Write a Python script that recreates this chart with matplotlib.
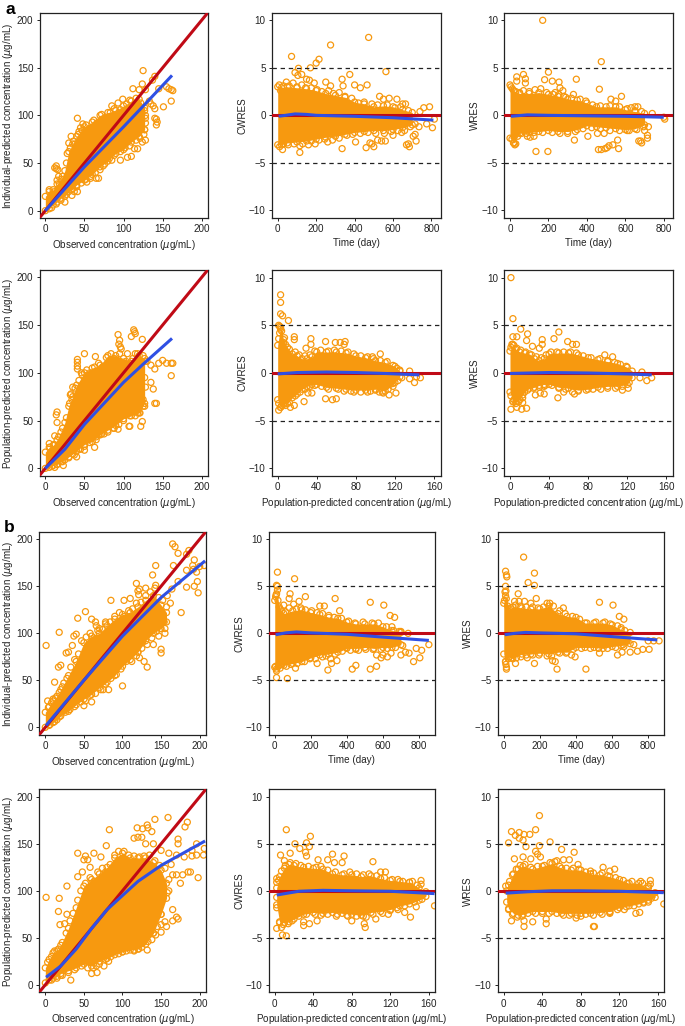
import matplotlib
matplotlib.use("Agg")
import matplotlib.pyplot as plt

WIDTH = 685
HEIGHT = 1026
ORANGE = "#F7990F"
RED = "#C00A16"
BLUE = "#2F50E4"
DARK = "#222222"

plt.rcParams["font.family"] = ["Liberation Sans", "DejaVu Sans"]
plt.rcParams["mathtext.fontset"] = "dejavusans"

OBS_LABEL = r"Observed concentration ($\mu$g/mL)"
IPRED_LABEL = r"Individual-predicted concentration ($\mu$g/mL)"
PRED_LABEL = r"Population-predicted concentration ($\mu$g/mL)"
TIME_LABEL = "Time (day)"

CONC_TICKS = [0, 50, 100, 150, 200]
TIME_TICKS = [0, 200, 400, 600, 800]
PRED_TICKS = [0, 40, 80, 120, 160]
RES_TICKS = [-10, -5, 0, 5, 10]

# dense part of each cloud: x positions with the lower and upper edge
a_conc_x = [0, 5, 10, 15, 20, 25, 30, 35, 40, 50, 60, 70, 80, 90, 100, 110, 120, 127]
a1_hi = [15, 20, 22, 28, 33, 42, 62, 70, 78, 88, 93, 100, 103, 105, 110, 115, 117, 108]
a1_lo = [0, 2, 6, 9, 13, 15, 20, 23, 27, 32, 38, 46, 52, 60, 64, 72, 78, 85]
a4_hi = [17, 22, 24, 30, 38, 48, 65, 75, 87, 100, 105, 108, 118, 118, 115, 112, 118, 115]
a4_lo = [0, 1, 3, 4, 7, 9, 12, 15, 18, 25, 28, 35, 40, 45, 52, 55, 58, 68]

a_time_x = [0, 20, 50, 100, 150, 200, 250, 300, 350, 400, 450, 500, 550, 600, 650, 700]
a2_hi = [3, 2.9, 3, 2.9, 2.8, 2.6, 2.3, 2.1, 1.9, 1.4, 1.2, 0.9, 1.0, 0.9, 0.6, 0.3]
a2_lo = [-3.1, -3.1, -2.9, -2.8, -2.7, -2.5, -2.3, -2.2, -2, -1.8, -1.7, -1.6, -1.6, -1.5, -1.3, -1]
a3_hi = [3.2, 2.6, 2.3, 2.3, 2.4, 2.2, 2, 1.7, 1.6, 1.3, 0.9, 0.9, 0.9, 0.6, 0.4, 0.2]
a3_lo = [-2.4, -2.9, -1.9, -1.8, -1.7, -1.6, -1.7, -1.7, -1.5, -1.1, -1.2, -1.3, -1.4, -1.5, -1.4, -1]

a_pred_x = [0, 3, 6, 10, 15, 20, 25, 30, 35, 40, 50, 60, 70, 80, 90, 100, 110, 120, 125]
a5_hi = [2.9, 4.8, 3.5, 2.7, 2, 1.8, 1.5, 1.5, 1.7, 2.2, 2.2, 2.2, 2.1, 1.8, 1.6, 1.3, 1.1, 0.7, 0.2]
a5_lo = [-2.8, -3.6, -3.3, -3.2, -2.6, -2.2, -1.7, -1.4, -1.2, -1.2, -1.5, -1.6, -1.7, -1.8, -1.8, -1.7, -1.9, -1, -0.4]
a6_hi = [2.3, 3, 2.5, 2.2, 2.1, 2, 1.5, 1.3, 1.5, 2, 2.1, 2.1, 1.9, 1.6, 1.4, 1.2, 1, 0.6, 0.2]
a6_lo = [-2, -3, -3, -2.8, -2, -1.6, -1.5, -1.3, -1.2, -1.2, -1.5, -1.6, -1.8, -1.7, -1.5, -1.4, -1.4, -1.2, -0.5]

b_conc_x = [0, 5, 10, 15, 20, 30, 40, 50, 60, 70, 80, 90, 100, 110, 120, 130, 140, 150, 157]
b1_hi = [16, 22, 28, 33, 40, 55, 70, 90, 97, 100, 108, 115, 120, 122, 128, 135, 140, 130, 122]
b1_lo = [0, 2, 5, 8, 12, 17, 24, 30, 35, 42, 48, 55, 65, 72, 80, 92, 100, 105, 112]
b4_hi = [18, 27, 34, 36, 42, 60, 82, 105, 112, 118, 125, 135, 140, 135, 135, 135, 130, 122, 108]
b4_lo = [2, 5, 7, 9, 12, 15, 18, 22, 20, 25, 28, 32, 35, 37, 38, 43, 55, 75, 92]

b_time_x = [0, 10, 30, 50, 100, 150, 200, 250, 300, 350, 400, 450, 500, 550, 600, 650, 700]
b2_hi = [3.5, 4.2, 2.6, 2.1, 2.4, 2.5, 2.2, 2, 1.7, 1.6, 1.2, 1, 1, 1, 0.7, 0.3, 0.2]
b2_lo = [-3.6, -3.8, -3.3, -3.4, -3.2, -3, -2.6, -2.3, -2.2, -2, -1.6, -1.6, -1.5, -1.6, -1.5, -1.5, -1.2]
b3_hi = [3.2, 4, 2.6, 2.8, 2.7, 2.6, 2.6, 2.9, 2.1, 1.8, 1.7, 1.1, 1.1, 1.1, 0.9, 0.4, 0.1]
b3_lo = [-2.2, -3, -2.5, -2.7, -2.2, -2.2, -2.1, -2.2, -2, -2, -1.5, -1.5, -1.5, -1.6, -1.4, -1.3, -1.1]

b5_x = [2, 5, 10, 15, 20, 30, 40, 50, 60, 70, 80, 90, 100, 110, 120, 130, 140, 150, 157]
b5_hi = [0.3, 1.5, 2.4, 2.8, 2.7, 2.5, 2.4, 2.3, 1.8, 1.7, 1.7, 1.5, 1.6, 1.3, 1.1, 1, 0.9, 0.3, -0.1]
b5_lo = [-1.5, -3.3, -3.4, -3.3, -3, -2.5, -2.3, -2.4, -2.3, -2.4, -2.5, -2.6, -2.3, -2.2, -2, -1.6, -1.4, -1, -0.6]
b6_x = [3, 5, 10, 15, 20, 30, 40, 50, 60, 70, 80, 90, 100, 110, 120, 130, 140, 150, 157]
b6_hi = [0, 0.6, 1.8, 2.3, 2.6, 2.3, 2.6, 2.9, 2.4, 2.2, 2.2, 1.8, 1.7, 1.5, 1.2, 0.8, 0.8, 0.3, -0.2]
b6_lo = [-1.2, -1.9, -2.4, -2.6, -2.5, -2.2, -2.2, -2.2, -2.4, -2.4, -2.4, -2.4, -2.3, -2.2, -1.8, -1.6, -1.4, -1, -0.7]

# circles sitting on the rim of the dense part
a1_rim = [(8, 17), (12, 20), (18, 28), (22, 36), (27, 50), (28, 60), (32, 66), (36, 73), (38, 70), (42, 80), (47, 84), (52, 90),
          (56, 86), (62, 95), (66, 92), (72, 101), (77, 98), (83, 103), (88, 107), (96, 106), (104, 112), (108, 116), (116, 118),
          (122, 113), (127, 105), (128, 100), (128, 92), (127, 85), (126, 80), (121, 76), (116, 74), (108, 68), (102, 66), (96, 62),
          (88, 58), (82, 55), (76, 49), (70, 43), (64, 40), (58, 36), (52, 33), (46, 29), (40, 25), (33, 22), (27, 17), (20, 11),
          (14, 7), (8, 3)]
a2_rim = [(8, 3.2), (15, 2.6), (30, 3.1), (45, 3.5), (60, 3.1), (80, 3.4), (100, 3), (125, 3.2), (145, 2.9), (175, 2.9), (205, 2.7),
          (230, 2.5), (265, 2.6), (290, 2.3), (320, 2.4), (350, 2), (385, 1.8), (420, 1.3), (450, 1.4), (490, 1.2), (520, 1.1),
          (570, 1.1), (610, 0.8), (640, 0.9), (680, 0.5), (10, -3.3), (30, -3), (55, -3.1), (85, -3), (130, -3), (175, -2.7),
          (215, -2.6), (245, -2.5), (285, -2.6), (320, -2.4), (360, -2.1), (390, -2), (430, -1.9), (470, -1.8), (510, -1.9),
          (555, -1.9), (590, -1.7), (625, -1.6), (660, -1.6), (690, -1.2)]
a3_rim = [(5, 3), (12, 2.8), (30, 2.5), (50, 2.4), (70, 2.6), (100, 2.5), (130, 2.7), (160, 2.8), (190, 2.4), (225, 2.2), (255, 2.2),
          (290, 1.9), (320, 1.8), (365, 1.7), (395, 1.5), (430, 1.1), (470, 1), (520, 1), (570, 0.9), (610, 0.7), (650, 0.5),
          (685, 0.4), (10, -2.5), (18, -2.9), (40, -2.2), (60, -1.9), (85, -1.9), (125, -1.8), (170, -1.8), (220, -1.8), (260, -1.9),
          (300, -1.9), (340, -1.7), (380, -1.4), (425, -1.3), (470, -1.4), (520, -1.6), (570, -1.6), (620, -1.6), (660, -1.5), (695, -1.2)]
a4_rim = [(6, 22), (11, 25), (17, 33), (22, 42), (27, 53), (31, 68), (34, 72), (38, 84), (43, 92), (47, 98), (53, 103), (57, 100),
          (63, 106), (68, 110), (73, 106), (78, 116), (84, 120), (88, 115), (95, 120), (103, 112), (108, 110), (112, 115), (118, 120),
          (125, 118), (128, 112), (127, 95), (128, 85), (125, 72), (127, 65), (121, 58), (115, 55), (108, 55), (100, 50), (94, 46),
          (88, 42), (80, 38), (72, 36), (65, 30), (57, 27), (50, 23), (43, 20), (37, 14), (30, 11), (22, 7), (15, 4), (8, 2)]
a5_rim = [(1, 3.6), (2, 4.2), (4, 4.4), (6, 3.2), (8, 3), (12, 2.5), (18, 2.2), (22, 1.9), (28, 1.8), (33, 1.9), (38, 2.3), (44, 2.4),
          (52, 2.3), (58, 2.4), (65, 2.3), (72, 2.2), (78, 2), (85, 1.8), (92, 1.7), (98, 1.5), (105, 1.3), (112, 1.2), (118, 0.8),
          (122, 0.5), (1, -3.2), (4, -3.4), (8, -3.4), (12, -3.1), (18, -2.4), (23, -2), (28, -1.7), (33, -1.4), (38, -1.3), (45, -1.4),
          (52, -1.7), (62, -1.7), (68, -1.9), (75, -1.9), (85, -2), (92, -2), (100, -1.8), (107, -2), (113, -1.7), (118, -1.4), (123, -0.8)]
a6_rim = [(1, 2.7), (2, 3), (4, 2.9), (7, 2.6), (11, 2.4), (16, 2.2), (22, 1.9), (27, 1.7), (32, 1.6), (37, 1.9), (42, 2.2), (48, 2.2),
          (55, 2.2), (62, 2.2), (68, 2.1), (75, 1.8), (83, 1.6), (92, 1.5), (100, 1.3), (107, 1.1), (113, 0.9), (119, 0.7), (1, -2.4),
          (3, -3), (6, -3.2), (9, -3), (13, -2.3), (18, -1.8), (24, -1.6), (30, -1.5), (36, -1.3), (43, -1.3), (50, -1.6), (57, -1.7),
          (64, -2), (70, -1.9), (78, -1.8), (85, -1.7), (93, -1.7), (100, -1.6), (108, -1.6), (115, -1.4), (122, -1)]
b1_rim = [(4, 21), (8, 26), (13, 31), (18, 37), (24, 47), (28, 52), (33, 64), (38, 72), (43, 78), (47, 92), (53, 96), (58, 100), (63, 95),
          (68, 103), (74, 104), (78, 110), (84, 112), (90, 118), (96, 122), (103, 118), (108, 124), (113, 126), (118, 132), (124, 133),
          (130, 140), (136, 144), (142, 148), (147, 138), (152, 135), (157, 128), (162, 132), (154, 112), (149, 105), (144, 102),
          (138, 95), (132, 88), (125, 84), (118, 76), (112, 70), (105, 70), (98, 62), (92, 56), (85, 52), (78, 46), (72, 40), (65, 36),
          (58, 34), (52, 28), (46, 27), (38, 22), (32, 19), (26, 16), (18, 11), (12, 6), (6, 3)]
b2_rim = [(5, 3.9), (8, 4.1), (18, 3.5), (25, 2.8), (40, 2.4), (60, 2.3), (80, 2.7), (120, 2.6), (145, 2.7), (170, 2.5), (205, 2.4),
          (235, 2.2), (265, 2.1), (300, 1.9), (330, 1.7), (370, 1.6), (410, 1.3), (445, 1.1), (490, 1.2), (540, 1.1), (575, 1.1),
          (620, 0.7), (660, 0.3), (690, 0.2), (5, -3.5), (20, -3.5), (40, -3.3), (65, -3.5), (90, -3.3), (125, -3.2), (165, -3),
          (195, -2.7), (225, -2.7), (265, -2.5), (285, -2.4), (335, -2.2), (375, -1.9), (420, -1.8), (465, -1.8), (505, -1.7),
          (545, -1.7), (590, -1.7), (625, -1.6), (670, -1.5), (710, -1.3)]
b3_rim = [(4, 3.5), (7, 4.4), (14, 3.7), (22, 2.9), (40, 2.7), (65, 3), (90, 2.9), (125, 2.8), (160, 2.8), (190, 2.7), (220, 2.8),
          (255, 3.2), (275, 2.9), (310, 2.4), (340, 2.1), (380, 1.8), (420, 1.5), (460, 1.1), (510, 1.2), (560, 1.2), (590, 1),
          (630, 0.8), (670, 0.3), (10, -3), (25, -2.7), (45, -2.6), (70, -2.6), (95, -2.5), (125, -2.3), (160, -2.3), (195, -2.3),
          (240, -2.4), (265, -2.4), (310, -2.1), (345, -2.1), (385, -1.7), (430, -1.6), (480, -1.6), (525, -1.6), (575, -1.6),
          (620, -1.5), (665, -1.4)]
b4_rim = [(3, 24), (8, 30), (12, 36), (17, 38), (22, 45), (27, 55), (32, 68), (36, 76), (42, 90), (46, 100), (52, 108), (58, 114),
          (63, 110), (68, 120), (74, 124), (78, 120), (84, 128), (90, 138), (95, 142), (102, 142), (108, 138), (115, 137), (122, 136),
          (128, 137), (135, 138), (142, 132), (148, 127), (155, 124), (160, 112), (158, 98), (150, 75), (145, 62), (140, 55), (133, 46),
          (125, 40), (115, 36), (105, 36), (95, 33), (85, 30), (78, 27), (70, 22), (62, 18), (55, 18), (47, 20), (38, 16), (30, 13),
          (22, 10), (15, 7), (8, 5)]
b5_rim = [(4, 1.1), (7, 2.1), (11, 2.7), (16, 3), (22, 2.9), (27, 2.7), (35, 2.6), (43, 2.5), (48, 2.6), (55, 2.2), (63, 2), (72, 1.8),
          (78, 2), (85, 1.8), (92, 1.7), (98, 1.8), (106, 1.6), (114, 1.4), (122, 1.2), (133, 1), (143, 1), (148, 0.6), (5, -3.4),
          (9, -3.6), (14, -3.5), (18, -3.2), (25, -2.7), (33, -2.5), (42, -2.5), (48, -2.6), (55, -2.5), (65, -2.5), (75, -2.6),
          (85, -2.7), (92, -2.7), (102, -2.5), (112, -2.4), (120, -2.1), (127, -1.8), (135, -1.6), (145, -1.2), (153, -0.9)]
b6_rim = [(6, 1), (9, 1.7), (13, 2.3), (17, 2.7), (22, 2.8), (28, 2.5), (35, 2.6), (42, 2.7), (48, 3), (53, 3.1), (58, 2.6), (65, 2.4),
          (72, 2.4), (78, 2.3), (85, 2), (93, 1.9), (102, 1.9), (108, 1.6), (116, 1.4), (124, 1.1), (133, 1), (144, 0.8), (150, 0.5),
          (5, -2), (9, -2.5), (14, -2.8), (19, -2.7), (25, -2.4), (33, -2.4), (40, -2.4), (47, -2.4), (55, -2.4), (62, -2.6), (68, -2.6),
          (76, -2.6), (85, -2.5), (93, -2.6), (102, -2.5), (110, -2.3), (118, -2), (127, -1.7), (135, -1.6), (145, -1.2), (153, -0.8)]

# single visible circles outside the dense part
a1_points = [(125, 147), (140, 141), (137, 137), (124, 133), (112, 128), (120, 127), (128, 127), (145, 128), (155, 130),
             (158, 128), (161, 127), (163, 126), (161, 115), (151, 109), (135, 112), (133, 115), (138, 110), (140, 107),
             (140, 97), (142, 96), (143, 93), (142, 90), (128, 97), (41, 97), (45, 87), (43, 83), (48, 91), (30, 71),
             (33, 78), (14, 47), (14, 44), (16, 43), (12, 45), (17, 36), (15, 32), (5, 22), (37, 20), (41, 20), (34, 16),
             (25, 9), (53, 30), (58, 34), (65, 34), (68, 34), (74, 47), (85, 53), (96, 53), (105, 56), (110, 57), (114, 65),
             (118, 65), (124, 72), (128, 74), (99, 117), (93, 113), (85, 110)]
a2_points = [(72, 6.2), (275, 7.4), (473, 8.2), (215, 5.9), (200, 5.5), (108, 4.95), (170, 5), (563, 4.6), (90, 4.5),
             (105, 4.2), (125, 4.3), (375, 4.3), (335, 3.8), (150, 3.8), (165, 3.7), (190, 3.4), (250, 3.5), (340, 3.1),
             (400, 3.2), (430, 2.9), (465, 3.2), (275, 3.1), (530, 2), (550, 1.7), (580, 1.8), (620, 1.7), (650, 1.2),
             (665, 1.2), (740, 0.4), (760, 0.8), (790, 0.9), (775, -0.9), (805, -1.3), (815, -0.4), (735, -1.2), (715, -0.9),
             (705, -2.2), (715, -2), (720, -2.7), (670, -3.1), (680, -3), (685, -3.3), (560, -2.7), (540, -2.7), (500, -3.3),
             (490, -3), (460, -3.4), (480, -2.9), (405, -2.8), (335, -3.5), (260, -2.8), (195, -3), (160, -3.1), (115, -3.2),
             (115, -3.9), (25, -3.6), (645, -1.8), (600, -2.1), (520, -2.6)]
a3_points = [(170, 10), (475, 5.65), (200, 4.55), (35, 4.05), (70, 4.3), (80, 3.85), (80, 3.4), (35, 3.6), (180, 3.75),
             (220, 3.6), (255, 3.5), (345, 3.8), (465, 2.75), (580, 2), (525, 1.7), (550, 1.5), (260, 2.9), (275, 2.6),
             (235, 2.4), (280, 2), (330, 2.2), (135, -3.8), (197, -3.8), (335, -2.6), (405, -2.2), (455, -1.9), (490, -1.9),
             (460, -3.6), (475, -3.6), (495, -3.5), (505, -3.4), (515, -3.2), (535, -3.1), (560, -2.6), (565, -3.5),
             (670, -2.7), (680, -2.7), (685, -2.9), (715, -2.1), (715, -2.4), (700, -1.6), (720, -1.2), (610, -1.6),
             (740, 0.2), (800, -0.2), (805, -0.4), (90, -2.2), (105, -2.3), (125, -2.2), (25, -3.1), (30, -3), (20, -2.9),
             (650, 0.9), (665, 0.9), (630, 0.8)]
a4_points = [(113, 145), (114, 143), (115, 141), (110, 138), (93, 140), (95, 134), (94, 130), (96, 127), (97, 125), (124, 135),
             (50, 120), (41, 114), (41, 111), (41, 107), (41, 104), (64, 117), (46, 100), (35, 85), (33, 78), (32, 77),
             (15, 59), (14, 56), (15, 48), (12, 34), (5, 26), (45, 20), (50, 19), (63, 22), (40, 12), (23, 3), (12, 1),
             (107, 44), (108, 44), (122, 44), (124, 49), (118, 58), (125, 65), (140, 68), (142, 68), (138, 83), (135, 90),
             (161, 97), (161, 110), (163, 110), (150, 113), (145, 110), (155, 110), (140, 104), (135, 108), (130, 112),
             (60, 33), (65, 33), (75, 36), (87, 42), (93, 41), (68, 35), (105, 120), (115, 120)]
a5_points = [(3, 8.2), (3, 7.4), (3, 6.2), (5, 6), (11, 5.5), (1, 5), (2, 4.9), (3, 4.6), (7, 3.7), (17, 3.8), (17, 3.5),
             (34, 3.6), (34, 3), (29, 2.6), (49, 3.3), (59, 3.2), (64, 3.2), (69, 3.3), (68, 3), (105, 2), (97, 1.7),
             (1, -3.9), (3, -3.6), (13, -3.6), (17, -3.4), (27, -3), (31, -2.1), (35, -2.1), (49, -2.7), (56, -2.8), (60, -2.7),
             (78, -2), (95, -1.9), (104, -2), (108, -2.1), (114, -2.3), (121, -2.1), (135, 0.2), (127, -0.5), (135, -0.6),
             (140, -1), (142, -0.4), (146, -0.5), (115, -1.2), (118, -1.1), (125, 0.3)]
a6_points = [(1, 10), (3, 5.7), (11, 4.6), (18, 4.1), (17, 3.4), (3, 3.8), (7, 3.8), (33, 3.5), (33, 3), (45, 3.6), (50, 4.3),
             (59, 3.3), (64, 3), (68, 3), (23, 2.8), (30, 2.6), (97, 1.9), (105, 1.7), (1, -3.8), (7, -3.6), (12, -3.8),
             (17, -3.7), (13, -3.1), (13, -2.6), (26, -2.3), (31, -2.1), (35, -2.2), (35, -1.4), (49, -2.6), (66, -2.2),
             (55, -2), (115, -1.8), (121, -1.6), (135, 0.1), (140, -0.8), (133, -0.5), (145, -0.5), (4, -2.8)]
b1_points = [(1, 87), (18, 101), (165, 195), (168, 192), (172, 185), (186, 188), (183, 184), (166, 172), (143, 172), (139, 162),
             (193, 178), (191, 172), (192, 168), (200, 171), (206, 172), (196, 165), (183, 167), (197, 155), (193, 150),
             (198, 143), (183, 149), (172, 155), (176, 122), (164, 147), (158, 140), (118, 153), (122, 147), (120, 145),
             (121, 141), (130, 148), (143, 151), (85, 135), (102, 135), (110, 137), (52, 123), (42, 116), (60, 115), (65, 112),
             (66, 108), (70, 105), (78, 112), (40, 99), (37, 97), (35, 87), (30, 80), (27, 79), (20, 66), (17, 64), (12, 48),
             (22, 43), (3, 28), (10, 30), (100, 44), (75, 40), (82, 40), (60, 27), (50, 23), (132, 64), (128, 70), (122, 74),
             (120, 80), (150, 79), (150, 83), (126, 90), (140, 88), (147, 97), (155, 105), (155, 100)]
b2_points = [(15, 6.5), (110, 5.8), (10, 5.1), (15, 5), (15, 4.6), (85, 4.2), (80, 3.7), (135, 3.4), (170, 3.9), (50, 3),
             (105, 3.1), (335, 3.7), (250, 2.9), (275, 2.9), (360, 2.4), (530, 3.3), (605, 3), (640, 1.9), (665, 1.7), (650, 0.7),
             (10, -4.7), (70, -4.8), (10, -4), (30, -3.7), (115, -3.7), (295, -3.9), (315, -3.2), (310, -2.7), (345, -2.9),
             (430, -3.8), (450, -3.4), (530, -3.8), (565, -3.5), (565, -2.3), (590, -2.6), (600, -2.3), (625, -2.5), (645, -2.1),
             (700, -2.3), (725, -2), (745, -2.1), (770, -3), (785, -1.6), (805, -2.6), (815, -1.8), (855, -1.2), (235, -3.2),
             (400, -1.5), (450, -1.7), (700, 0.1), (740, 0)]
b3_points = [(110, 8.1), (10, 6.6), (15, 6.2), (17, 6), (170, 6.4), (135, 5.4), (170, 5.1), (10, 5), (80, 4.2), (12, 4.5),
             (180, 3.7), (530, 3.3), (605, 3), (640, 1.8), (665, 1.5), (650, 0.6), (150, 3.2), (115, 3.4), (85, 3.4), (60, 3.4),
             (330, 2.7), (240, 3.2), (12, -3.3), (15, -3.6), (15, -3.8), (65, -3.2), (130, -2.6), (170, -3.2), (295, -3.8),
             (455, -3.8), (530, -2.1), (630, -2.3), (655, -2), (700, -2), (740, -1.9), (770, -1.7), (805, -1.7), (860, -0.8),
             (395, -2.5), (375, -2.3), (270, -2.9), (285, -3), (660, -1.2), (720, -1.2), (800, -0.8), (830, -0.8)]
b4_points = [(1, 93), (18, 92), (28, 105), (17, 78), (19, 64), (28, 75), (25, 65), (42, 140), (52, 137), (50, 133), (55, 133),
             (58, 125), (63, 140), (72, 136), (83, 165), (79, 148), (119, 167), (126, 166), (132, 170), (138, 163), (133, 167),
             (142, 176), (159, 178), (181, 168), (184, 173), (172, 155), (172, 150), (115, 156), (120, 157), (125, 157),
             (130, 150), (140, 150), (150, 143), (196, 150), (190, 143), (160, 140), (170, 138), (180, 136), (190, 137),
             (205, 138), (196, 138), (163, 128), (185, 120), (188, 120), (198, 114), (178, 117), (175, 108), (165, 117),
             (170, 117), (150, 103), (160, 100), (165, 80), (170, 72), (172, 70), (165, 68), (155, 67), (150, 64), (157, 62),
             (150, 56), (143, 53), (138, 48), (130, 66), (125, 65), (135, 65), (125, 55), (116, 50), (132, 37), (121, 38),
             (115, 37), (100, 35), (85, 35), (110, 40), (66, 20), (76, 20), (82, 25), (60, 12), (67, 13), (33, 5), (20, 10),
             (206, 145), (48, 120), (42, 115)]
b5_points = [(12, 6.5), (37, 5.8), (21, 5), (33, 5.1), (36, 4.7), (26, 4.5), (32, 4.1), (33, 3.7), (6, 3.8), (16, 4), (10, 3.2),
             (60, 3.9), (72, 3.7), (45, 3.3), (55, 3.3), (62, 3), (70, 3), (102, 3.1), (2, 1.3), (2, 0.9), (8, -4.7), (12, -4.8),
             (2, -4), (7, -3.9), (30, -3.3), (30, -3.7), (36, -3.5), (44, -3.2), (64, -2.7), (76, -2.7), (80, -3.2), (93, -3.5),
             (94, -3.9), (95, -2.8), (105, -3), (128, -2), (141, -2.8), (147, -1.7), (166, -1.6), (152, 1.1), (152, 0.7),
             (140, 0.9), (128, 1.2), (115, 2), (110, 2), (118, -2.5), (135, -2.3), (2, -1.8), (2, -0.7)]
b6_points = [(37, 8), (8, 6.3), (12, 5.9), (16, 6.2), (21, 6), (27, 6), (33, 6.5), (16, 5.6), (20, 5.4), (5, 5.1), (23, 4.7),
             (37, 4.8), (48, 5.2), (33, 4.2), (35, 3.9), (60, 4.4), (73, 4.1), (20, 3.6), (28, 3.4), (38, 3.6), (11, 3.4),
             (55, 3.2), (62, 3.3), (68, 3.3), (77, 2.8), (2, 0.5), (93, -3.8), (94, -3.8), (8, -3.2), (21, -3.8), (21, -3.2),
             (30, -3.3), (44, -3), (44, -3.5), (75, -2.9), (80, -2.7), (110, -2.4), (125, -2), (137, -2.4), (141, -2.3),
             (145, -1.3), (152, 1.1), (152, 0.7), (142, 1), (128, 0.8), (115, 2.3), (110, 2.1), (103, 2.5), (90, 2.1),
             (166, -1.4), (150, -1.2)]

# blue smoother of each panel
a1_blue_x, a1_blue_y = [0, 50, 100, 130, 162], [0, 46, 88, 114, 142]
a2_blue_x, a2_blue_y = [5, 40, 90, 150, 200, 400, 600, 810], [-0.1, 0, 0.15, 0.1, 0, -0.1, -0.25, -0.5]
a3_blue_x, a3_blue_y = [5, 90, 200, 400, 600, 800], [-0.1, 0.05, 0, -0.05, -0.1, -0.2]
a4_blue_x, a4_blue_y = [0, 25, 50, 75, 100, 125, 162], [0, 20, 46, 68, 90, 109, 136]
a5_blue_x, a5_blue_y = [0, 20, 50, 80, 110, 145], [-0.1, 0.05, 0.1, 0.05, -0.05, -0.2]
a6_blue_x, a6_blue_y = [0, 40, 80, 120, 145], [-0.05, 0.05, 0, -0.1, -0.2]
b1_blue_x, b1_blue_y = [1, 50, 100, 150, 207], [2, 50, 97, 138, 177]
b2_blue_x, b2_blue_y = [5, 60, 120, 200, 400, 600, 855], [-0.15, 0.05, 0.15, 0.05, -0.1, -0.4, -0.75]
b3_blue_x, b3_blue_y = [5, 60, 120, 200, 400, 600, 850], [-0.15, 0, 0.1, 0.05, -0.05, -0.35, -0.7]
b4_blue_x, b4_blue_y = [1, 20, 40, 60, 80, 100, 120, 150, 207], [8, 20, 38, 60, 80, 95, 110, 127, 153]
b5_blue_x, b5_blue_y = [2, 25, 50, 80, 120, 166], [-0.45, -0.05, 0.05, 0, -0.05, -0.3]
b6_blue_x, b6_blue_y = [2, 25, 50, 80, 120, 166], [-0.25, -0.1, 0, 0, -0.05, -0.2]


def make_axes(fig, left, right, top, bottom):
    return fig.add_axes([left / WIDTH, 1 - bottom / HEIGHT, (right - left) / WIDTH, (bottom - top) / HEIGHT])


def draw_panel(ax, x, lo, hi, points, blue_x, blue_y, xlim, ylim, xticks, yticks, xlabel, ylabel, residual):
    ax.fill_between(x, lo, hi, color=ORANGE, lw=0, zorder=1)
    px = list(x) + list(x) + [p[0] for p in points]
    py = list(lo) + list(hi) + [p[1] for p in points]
    ax.scatter(px, py, s=19, facecolors="none", edgecolors=ORANGE, linewidths=0.9, zorder=2)
    if residual:
        ax.axhline(5, color=DARK, lw=0.9, dashes=(3.5, 3), zorder=3)
        ax.axhline(-5, color=DARK, lw=0.9, dashes=(3.5, 3), zorder=3)
        ax.axhline(0, color=RED, lw=2.2, zorder=4)
    else:
        ax.plot([-10, 210], [-10, 210], color=RED, lw=2.2, zorder=4)
    ax.plot(blue_x, blue_y, color=BLUE, lw=2.2, zorder=5, solid_capstyle="butt")
    ax.set_xlim(*xlim)
    ax.set_ylim(*ylim)
    ax.set_xticks(xticks)
    ax.set_yticks(yticks)
    ax.tick_params(length=2.5, width=0.7, labelsize=7.1, pad=2, color=DARK, labelcolor=DARK)
    ax.set_xlabel(xlabel, fontsize=7.1, color=DARK, labelpad=2.8)
    ax.set_ylabel(ylabel, fontsize=7.1, color=DARK, labelpad=1.2)
    for spine in ax.spines.values():
        spine.set_linewidth(0.9)
        spine.set_color(DARK)


fig = plt.figure(figsize=(WIDTH / 100, HEIGHT / 100), dpi=100)
fig.patch.set_facecolor("white")

conc_a = (-7.2, 208)
time_a = (-29.7, 848)
pred_a = (-5.8, 166.8)
conc_b = (-7.8, 207.8)
time_b = (-33.5, 889)
pred_b = (-6.3, 166.5)
res_lim = (-10.8, 10.8)

# first group
ax = make_axes(fig, 39.7, 208, 12.7, 218)
draw_panel(ax, a_conc_x, a1_lo, a1_hi, a1_points + a1_rim, a1_blue_x, a1_blue_y, conc_a, (-7.7, 207.8), CONC_TICKS, CONC_TICKS, OBS_LABEL, IPRED_LABEL, False)
ax = make_axes(fig, 272, 440.7, 12.7, 218)
draw_panel(ax, a_time_x, a2_lo, a2_hi, a2_points + a2_rim, a2_blue_x, a2_blue_y, time_a, res_lim, TIME_TICKS, RES_TICKS, TIME_LABEL, "CWRES", True)
ax = make_axes(fig, 504.3, 673, 12.7, 218)
draw_panel(ax, a_time_x, a3_lo, a3_hi, a3_points + a3_rim, a3_blue_x, a3_blue_y, time_a, res_lim, TIME_TICKS, RES_TICKS, TIME_LABEL, "WRES", True)
ax = make_axes(fig, 39.7, 208, 270, 476)
draw_panel(ax, a_conc_x, a4_lo, a4_hi, a4_points + a4_rim, a4_blue_x, a4_blue_y, conc_a, (-8, 207.6), CONC_TICKS, CONC_TICKS, OBS_LABEL, PRED_LABEL, False)
ax = make_axes(fig, 272, 440.7, 270, 476)
draw_panel(ax, a_pred_x, a5_lo, a5_hi, a5_points + a5_rim, a5_blue_x, a5_blue_y, pred_a, res_lim, PRED_TICKS, RES_TICKS, PRED_LABEL, "CWRES", True)
ax = make_axes(fig, 504.3, 673, 270, 476)
draw_panel(ax, a_pred_x, a6_lo, a6_hi, a6_points + a6_rim, a6_blue_x, a6_blue_y, pred_a, res_lim, PRED_TICKS, RES_TICKS, PRED_LABEL, "WRES", True)

# second group
ax = make_axes(fig, 39.3, 205.7, 531.7, 735)
draw_panel(ax, b_conc_x, b1_lo, b1_hi, b1_points + b1_rim, b1_blue_x, b1_blue_y, conc_b, (-8.2, 208), CONC_TICKS, CONC_TICKS, OBS_LABEL, IPRED_LABEL, False)
ax = make_axes(fig, 268.7, 435, 531.7, 735)
draw_panel(ax, b_time_x, b2_lo, b2_hi, b2_points + b2_rim, b2_blue_x, b2_blue_y, time_b, res_lim, TIME_TICKS, RES_TICKS, TIME_LABEL, "CWRES", True)
ax = make_axes(fig, 497.7, 664.3, 531.7, 735)
draw_panel(ax, b_time_x, b3_lo, b3_hi, b3_points + b3_rim, b3_blue_x, b3_blue_y, time_b, res_lim, TIME_TICKS, RES_TICKS, TIME_LABEL, "WRES", True)
ax = make_axes(fig, 39.3, 205.7, 789.3, 992.3)
draw_panel(ax, b_conc_x, b4_lo, b4_hi, b4_points + b4_rim, b4_blue_x, b4_blue_y, conc_b, (-8, 208), CONC_TICKS, CONC_TICKS, OBS_LABEL, PRED_LABEL, False)
ax = make_axes(fig, 268.7, 435, 789.3, 992.3)
draw_panel(ax, b5_x, b5_lo, b5_hi, b5_points + b5_rim, b5_blue_x, b5_blue_y, pred_b, res_lim, PRED_TICKS, RES_TICKS, PRED_LABEL, "CWRES", True)
ax = make_axes(fig, 497.7, 664.3, 789.3, 992.3)
draw_panel(ax, b6_x, b6_lo, b6_hi, b6_points + b6_rim, b6_blue_x, b6_blue_y, pred_b, res_lim, PRED_TICKS, RES_TICKS, PRED_LABEL, "WRES", True)

fig.text(5 / WIDTH, 1 - 10 / HEIGHT, "a", fontsize=12.5, fontweight="bold", color="black", va="center")
fig.text(4 / WIDTH, 1 - 527 / HEIGHT, "b", fontsize=12.5, fontweight="bold", color="black", va="center")

fig.savefig("out.png", dpi=100)
